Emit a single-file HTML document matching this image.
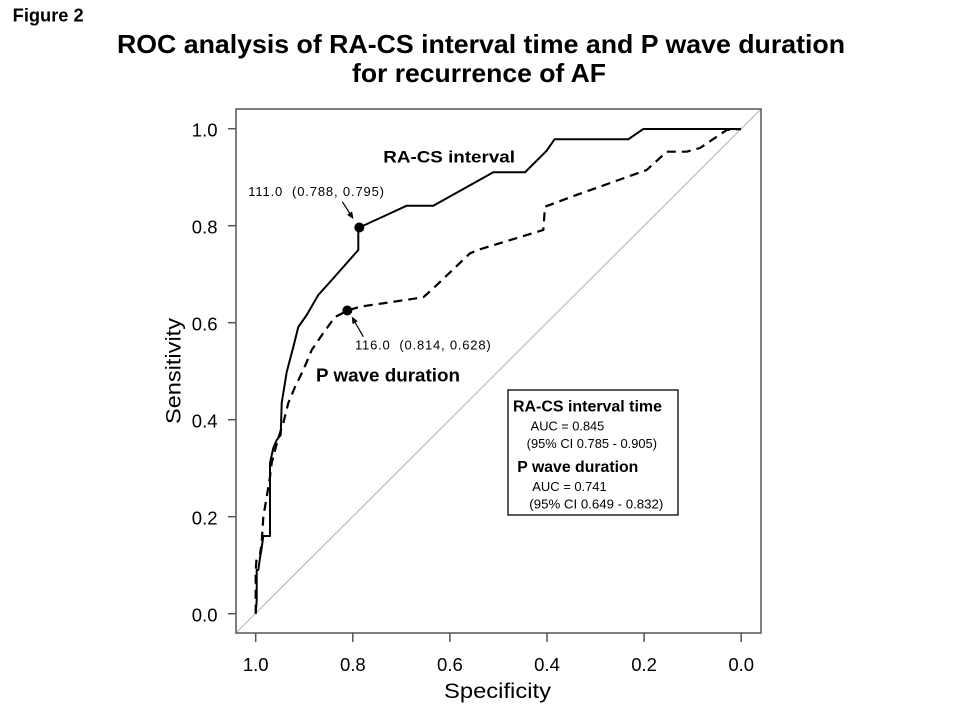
<!DOCTYPE html>
<html>
<head>
<meta charset="utf-8">
<style>
html,body{margin:0;padding:0;background:#fff;}
svg{display:block;}
text{font-family:"Liberation Sans",Arial,sans-serif;fill:#000;}
.b{font-weight:bold;}
.pre{white-space:pre;}
</style>
</head>
<body>
<svg width="960" height="720" viewBox="0 0 960 720" xmlns="http://www.w3.org/2000/svg">
<rect x="0" y="0" width="960" height="720" fill="#fff"/>

<!-- Figure label and title -->
<text class="b" x="12.7" y="21.5" font-size="18" textLength="71" lengthAdjust="spacingAndGlyphs">Figure 2</text>
<text class="b" x="117" y="53" font-size="26" textLength="728" lengthAdjust="spacingAndGlyphs">ROC analysis of RA-CS interval time and P wave duration</text>
<text class="b" x="352" y="82" font-size="26" textLength="254" lengthAdjust="spacingAndGlyphs">for recurrence of AF</text>

<!-- diagonal -->
<line x1="236" y1="633" x2="761" y2="109" stroke="#bdbdbd" stroke-width="1.2"/>

<!-- axis box -->
<rect x="236" y="109" width="525" height="524" fill="none" stroke="#555" stroke-width="1.5"/>

<!-- Y ticks -->
<g stroke="#555" stroke-width="1.5">
<line x1="228" y1="128.7" x2="236" y2="128.7"/>
<line x1="228" y1="225.7" x2="236" y2="225.7"/>
<line x1="228" y1="322.7" x2="236" y2="322.7"/>
<line x1="228" y1="419.7" x2="236" y2="419.7"/>
<line x1="228" y1="516.7" x2="236" y2="516.7"/>
<line x1="228" y1="613.7" x2="236" y2="613.7"/>
</g>
<g font-size="18.5" text-anchor="end">
<text x="217.5" y="136.5">1.0</text>
<text x="217.5" y="233.5">0.8</text>
<text x="217.5" y="330.5">0.6</text>
<text x="217.5" y="427.5">0.4</text>
<text x="217.5" y="524.5">0.2</text>
<text x="217.5" y="621.5">0.0</text>
</g>

<!-- X ticks -->
<g stroke="#555" stroke-width="1.5">
<line x1="255.7" y1="633" x2="255.7" y2="642"/>
<line x1="352.8" y1="633" x2="352.8" y2="642"/>
<line x1="449.9" y1="633" x2="449.9" y2="642"/>
<line x1="547" y1="633" x2="547" y2="642"/>
<line x1="644.1" y1="633" x2="644.1" y2="642"/>
<line x1="741.2" y1="633" x2="741.2" y2="642"/>
</g>
<g font-size="18.5" text-anchor="middle">
<text x="255.7" y="671">1.0</text>
<text x="352.8" y="671">0.8</text>
<text x="449.9" y="671">0.6</text>
<text x="547" y="671">0.4</text>
<text x="644.1" y="671">0.2</text>
<text x="741.2" y="671">0.0</text>
</g>

<!-- axis titles -->
<text x="444" y="698" font-size="21.5" textLength="107" lengthAdjust="spacingAndGlyphs">Specificity</text>
<text transform="translate(180.5,424) rotate(-90)" x="0" y="0" font-size="21.5" textLength="106" lengthAdjust="spacingAndGlyphs">Sensitivity</text>

<!-- RA-CS solid curve -->
<path d="M255.7,613.7 L256.7,600 L256.7,570 L258.3,570 L260,558 L261.7,548 L263.3,536 L270,536 L270,463 L273.3,448 L276.7,440 L280.7,435 L281.7,403 L283.3,393 L286.7,372 L288.3,366 L293.3,347 L298.3,327 L306.7,315 L318.3,295 L330,282 L358.3,250 L358.3,228 L406.7,205.7 L433.3,205.7 L493.3,172.3 L525,172.3 L546.7,150.7 L554.5,139.3 L628.3,139.3 L643.3,129 L741,129" fill="none" stroke="#000" stroke-width="2" stroke-linejoin="round"/>

<!-- P wave dashed curve -->
<path d="M255.7,613.7 L255.7,570 L256.7,557 L260,555 L261.7,542 L263.3,517 L270,477 L271.7,463 L278.3,438 L283.3,423 L288.3,403 L295,387 L303.3,370 L311.7,350 L323.3,333 L335,317 L347.3,310.7 L360,306.7 L423.3,297.3 L433.3,288.3 L470,253.3 L480,249.3 L543.3,230 L545,206.7 L571.7,196.7 L646.7,170 L666.7,151.7 L686.7,151.7 L700,148 L726.7,130 L741,129" fill="none" stroke="#000" stroke-width="2.2" stroke-dasharray="9 6" stroke-linejoin="round"/>

<!-- dots -->
<circle cx="359.3" cy="227.5" r="5" fill="#000"/>
<circle cx="347.3" cy="310.5" r="5" fill="#000"/>

<!-- arrows -->
<line x1="342.3" y1="201.7" x2="350.5" y2="214.5" stroke="#000" stroke-width="1.2"/>
<polygon points="353.5,219 347.1,214.9 352.1,211.5" fill="#000"/>
<line x1="363.3" y1="336.7" x2="354" y2="320.5" stroke="#000" stroke-width="1.2"/>
<polygon points="351.7,316.5 357.8,321.1 352.6,324.1" fill="#000"/>

<!-- annotations -->
<text class="b" x="383.3" y="162.7" font-size="17" textLength="131.7" lengthAdjust="spacingAndGlyphs">RA-CS interval</text>
<text class="pre" xml:space="preserve" x="248.3" y="196" font-size="13" textLength="135.7" lengthAdjust="spacing">111.0  (0.788, 0.795)</text>
<text class="pre" xml:space="preserve" x="355" y="349.3" font-size="13" textLength="135.7" lengthAdjust="spacing">116.0  (0.814, 0.628)</text>
<text class="b" x="316" y="381.7" font-size="18" textLength="144" lengthAdjust="spacingAndGlyphs">P wave duration</text>

<!-- legend -->
<rect x="508" y="390" width="170" height="125" fill="#fff" stroke="#000" stroke-width="1.3"/>
<text class="b" x="513" y="411.5" font-size="16" textLength="149" lengthAdjust="spacingAndGlyphs">RA-CS interval time</text>
<text x="530.7" y="430.5" font-size="12.5" textLength="73.6" lengthAdjust="spacingAndGlyphs">AUC = 0.845</text>
<text x="526.7" y="448" font-size="12.5" textLength="130.3" lengthAdjust="spacingAndGlyphs">(95% CI 0.785 - 0.905)</text>
<text class="b" x="517.3" y="472" font-size="16" textLength="121" lengthAdjust="spacingAndGlyphs">P wave duration</text>
<text x="532.3" y="491" font-size="12.5" textLength="74.4" lengthAdjust="spacingAndGlyphs">AUC = 0.741</text>
<text x="529.3" y="508.5" font-size="12.5" textLength="134" lengthAdjust="spacingAndGlyphs">(95% CI 0.649 - 0.832)</text>
</svg>
</body>
</html>
